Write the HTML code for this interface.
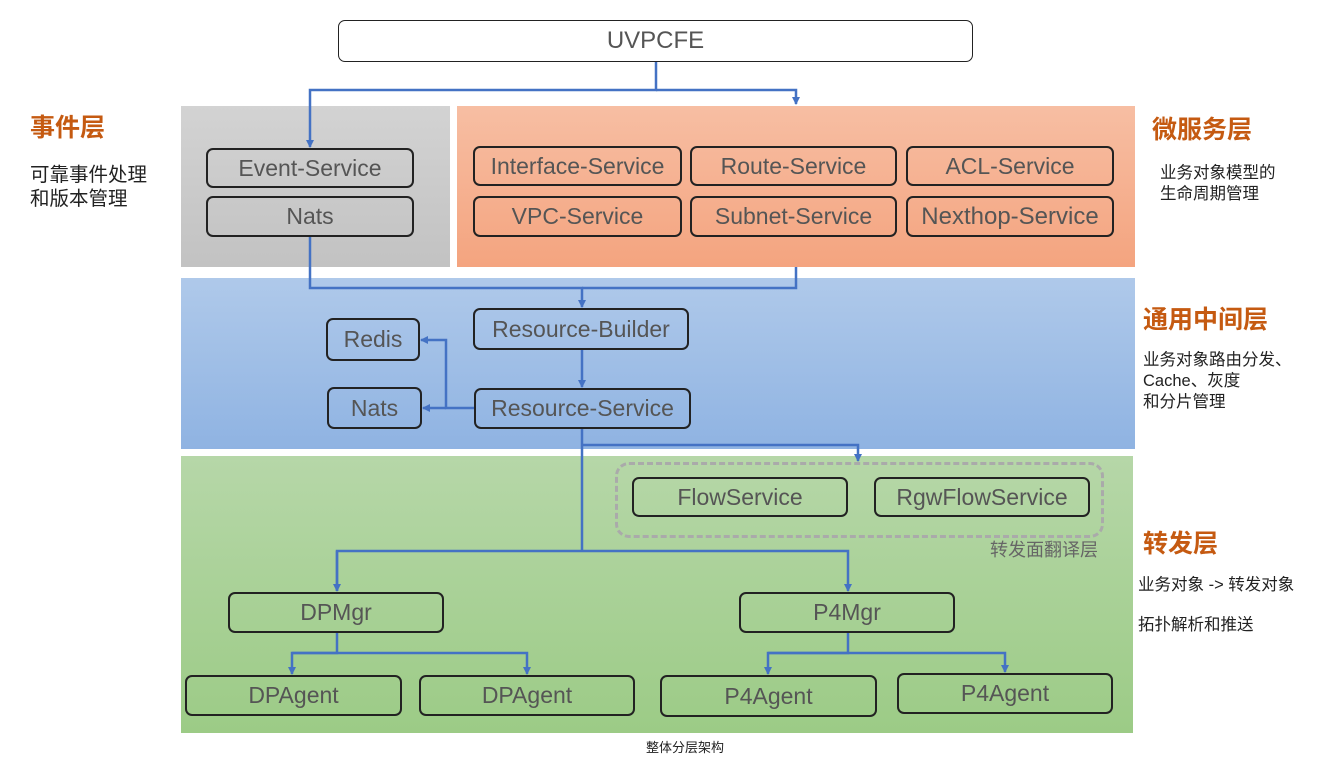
<!DOCTYPE html>
<html><head><meta charset="utf-8"><style>
body{margin:0;width:1319px;height:759px;background:#fff;position:relative;overflow:hidden;font-family:"Liberation Sans","Noto Sans CJK SC",sans-serif;}
.a{position:absolute;box-sizing:border-box;}
.b{position:absolute;box-sizing:border-box;border:2px solid #222;border-radius:7px;color:#555;display:flex;align-items:center;justify-content:center;font-size:23px;}
.t{position:absolute;color:#c55a11;font-size:25px;font-weight:bold;white-space:nowrap;}
.d{position:absolute;color:#222;font-size:16.5px;line-height:21px;white-space:nowrap;}
</style></head><body>
<div class="a" style="left:181px;top:106px;width:269px;height:161px;background:linear-gradient(#d3d3d3,#c2c2c2)"></div>
<div class="a" style="left:457px;top:106px;width:678px;height:161px;background:linear-gradient(#f7bea3,#f4a47f)"></div>
<div class="a" style="left:181px;top:278px;width:954px;height:171px;background:linear-gradient(#afc9ea,#8fb3e2)"></div>
<div class="a" style="left:181px;top:456px;width:952px;height:277px;background:linear-gradient(#b6d7a8,#9ccb86)"></div>
<div class="a" style="left:615px;top:462px;width:489px;height:76px;border:3px dashed #aaa;border-radius:14px"></div>

<div class="b" style="left:338px;top:20px;width:635px;height:42px;border-width:1.5px;font-size:24px;background:#fff">UVPCFE</div>
<div class="b" style="left:206px;top:148px;width:208px;height:40px">Event-Service</div>
<div class="b" style="left:206px;top:196px;width:208px;height:41px">Nats</div>
<div class="b" style="left:473px;top:146px;width:209px;height:40px">Interface-Service</div>
<div class="b" style="left:690px;top:146px;width:207px;height:40px">Route-Service</div>
<div class="b" style="left:906px;top:146px;width:208px;height:40px">ACL-Service</div>
<div class="b" style="left:473px;top:196px;width:209px;height:41px">VPC-Service</div>
<div class="b" style="left:690px;top:196px;width:207px;height:41px">Subnet-Service</div>
<div class="b" style="left:906px;top:196px;width:208px;height:41px;font-size:24px">Nexthop-Service</div>
<div class="b" style="left:473px;top:308px;width:216px;height:42px">Resource-Builder</div>
<div class="b" style="left:474px;top:388px;width:217px;height:41px">Resource-Service</div>
<div class="b" style="left:326px;top:318px;width:94px;height:43px">Redis</div>
<div class="b" style="left:327px;top:387px;width:95px;height:42px">Nats</div>
<div class="b" style="left:632px;top:477px;width:216px;height:40px">FlowService</div>
<div class="b" style="left:874px;top:477px;width:216px;height:40px">RgwFlowService</div>
<div class="b" style="left:228px;top:592px;width:216px;height:41px">DPMgr</div>
<div class="b" style="left:739px;top:592px;width:216px;height:41px">P4Mgr</div>
<div class="b" style="left:185px;top:675px;width:217px;height:41px">DPAgent</div>
<div class="b" style="left:419px;top:675px;width:216px;height:41px">DPAgent</div>
<div class="b" style="left:660px;top:675px;width:217px;height:42px">P4Agent</div>
<div class="b" style="left:897px;top:673px;width:216px;height:41px">P4Agent</div>
<div class="d" style="left:990px;top:540px;font-size:18px;color:#666">转发面翻译层</div>

<svg class="a" style="left:0;top:0" width="1319" height="759">
<defs><marker id="m" markerWidth="8" markerHeight="8" refX="7" refY="4" orient="auto" markerUnits="userSpaceOnUse"><path d="M0,0L8,4L0,8z" fill="#4472c4"/></marker></defs>
<g stroke="#4472c4" stroke-width="2.5" fill="none">
<path d="M656,62V90H310V147" marker-end="url(#m)"/>
<path d="M656,90H796V104" marker-end="url(#m)"/>
<path d="M310,237V288H582V307" marker-end="url(#m)"/>
<path d="M796,267V288H582"/>
<path d="M582,350V387" marker-end="url(#m)"/>
<path d="M474,408H446V340H421" marker-end="url(#m)"/>
<path d="M446,408H423" marker-end="url(#m)"/>
<path d="M582,429V551"/>
<path d="M582,445H858V461" marker-end="url(#m)"/>
<path d="M337,591V551H848V591" marker-end="url(#m)"/>
<path d="M337,551V591" marker-end="url(#m)"/>
<path d="M337,633V653H292V674" marker-end="url(#m)"/>
<path d="M292,653H527V674" marker-end="url(#m)"/>
<path d="M848,633V653H768V674" marker-end="url(#m)"/>
<path d="M768,653H1005V672" marker-end="url(#m)"/>
</g></svg>

<div class="t" style="left:30px;top:108px">事件层</div>
<div class="d" style="left:30px;top:163px;font-size:19.5px;line-height:24px">可靠事件处理<br>和版本管理</div>
<div class="t" style="left:1152px;top:110px">微服务层</div>
<div class="d" style="left:1160px;top:163px">业务对象模型的<br>生命周期管理</div>
<div class="t" style="left:1143px;top:300px">通用中间层</div>
<div class="d" style="left:1143px;top:350px">业务对象路由分发、<br>Cache、灰度<br>和分片管理</div>
<div class="t" style="left:1143px;top:524px">转发层</div>
<div class="d" style="left:1138px;top:575px">业务对象 -&gt; 转发对象</div>
<div class="d" style="left:1138px;top:615px">拓扑解析和推送</div>
<div class="d" style="left:646px;top:737px;font-size:13px">整体分层架构</div>
</body></html>
